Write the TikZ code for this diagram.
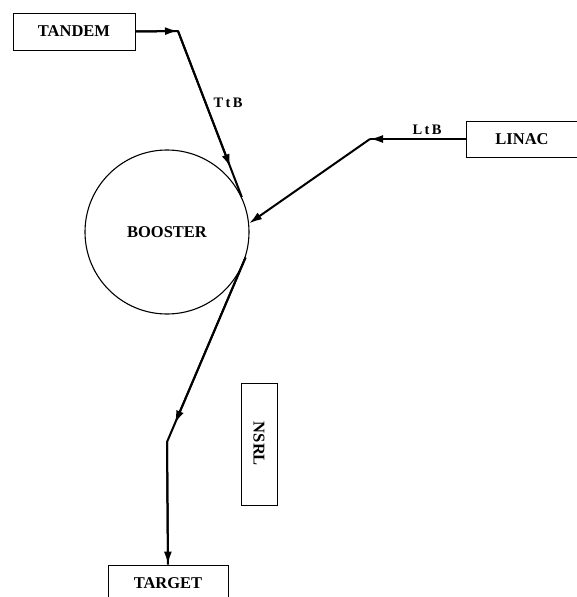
\documentclass[tikz,border=0pt]{standalone}
\usepackage{fontspec}
\setmainfont{Liberation Serif}
\usetikzlibrary{arrows.meta,calc}
\begin{document}
\begin{tikzpicture}[x=1pt,y=-1pt,
  box/.style={draw,line width=0.9pt,inner sep=0pt,font=\fontsize{16.5}{18}\selectfont\bfseries},
  conn/.style={line width=2pt,-{Latex[length=13pt,width=8pt]}},
  plain/.style={line width=2pt,line join=round},
  lbl/.style={font=\fontsize{14.5}{16}\selectfont\bfseries}]
\useasboundingbox (0,0) rectangle (577,597);
\node[box,minimum width=122pt,minimum height=37pt] (tandem) at (74,31.5) {TANDEM};
\node[box,minimum width=112pt,minimum height=36pt] (linac) at (522,139) {LINAC};
\node[circle,draw,line width=1.1pt,minimum size=164pt,inner sep=0pt,font=\fontsize{16.5}{18}\selectfont\bfseries] (booster) at (167,232) {BOOSTER};
\node[box,minimum width=120pt,minimum height=36pt] (target) at (168,583) {TARGET};
\node[box,minimum width=122pt,minimum height=36pt,rotate=-90] (nsrl) at (259,444) {NSRL};
\coordinate (c1) at (178,31);
\coordinate (t1) at ($(c1)!0.82!(booster.25)$);
\coordinate (c2) at (370,139);
\coordinate (c3) at (167,442);
\coordinate (a3) at ($(booster.-18)!0.9!(c3)$);
\draw[plain] (tandem.east) -- (c1) -- (booster.25);
\draw[conn] (tandem.east) -- (c1);
\draw[conn] (c1) -- (t1);
\draw[plain] (linac.west) -- (c2);
\draw[conn] (linac.west) -- (c2);
\draw[conn] (c2) -- (booster.6);
\draw[plain] (booster.-18) -- (c3) -- (target.north);
\draw[conn] (booster.-18) -- (a3);
\draw[conn] (c3) -- (target.north);
\node[lbl] (ttb) at (228,103) {T\,t\,B};
\node[lbl] (ltb) at (427,130) {L\,t\,B};
\end{tikzpicture}
\end{document}
